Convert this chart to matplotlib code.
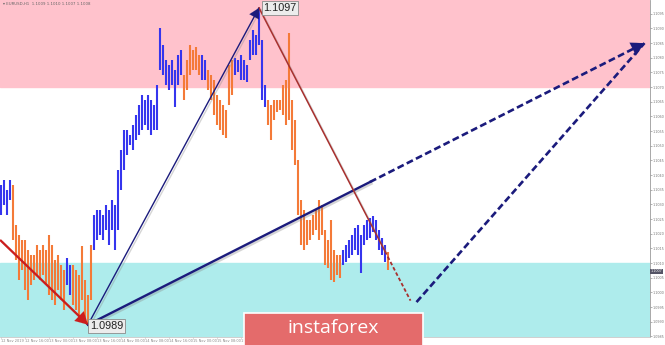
import numpy as np
import matplotlib
matplotlib.use("Agg")
import matplotlib.pyplot as plt
import matplotlib.patheffects as pe
from matplotlib.patches import Rectangle

# price bars (H1)
highs = [1.10366, 1.10383, 1.10349, 1.10383, 1.10366, 1.10230, 1.10196, 1.10179, 1.10179, 1.10145,
         1.10127, 1.10127, 1.10162, 1.10145, 1.10162, 1.10145, 1.10196, 1.10162, 1.10110, 1.10127,
         1.10093, 1.10076, 1.10117, 1.10093, 1.10093, 1.10076, 1.10059, 1.10158, 1.10042, 1.09991,
         1.10162, 1.10264, 1.10281, 1.10281, 1.10264, 1.10298, 1.10281, 1.10315, 1.10298, 1.10417,
         1.10486, 1.10554, 1.10554, 1.10537, 1.10571, 1.10605, 1.10639, 1.10673, 1.10656, 1.10673,
         1.10656, 1.10639, 1.10707, 1.10902, 1.10844, 1.10792, 1.10775, 1.10792, 1.10758, 1.10809,
         1.10827, 1.10741, 1.10792, 1.10844, 1.10827, 1.10837, 1.10809, 1.10809, 1.10792, 1.10758,
         1.10741, 1.10724, 1.10673, 1.10656, 1.10639, 1.10622, 1.10775, 1.10792, 1.10799, 1.10792,
         1.10809, 1.10792, 1.10775, 1.10861, 1.10895, 1.10878, 1.10970, 1.10861, 1.10707, 1.10656,
         1.10639, 1.10656, 1.10656, 1.10656, 1.10707, 1.10724, 1.10884, 1.10656, 1.10588, 1.10451,
         1.10315, 1.10281, 1.10247, 1.10247, 1.10264, 1.10281, 1.10315, 1.10298, 1.10213, 1.10179,
         1.10247, 1.10145, 1.10127, 1.10127, 1.10145, 1.10162, 1.10179, 1.10196, 1.10220, 1.10230,
         1.10196, 1.10230, 1.10247, 1.10254, 1.10260, 1.10247, 1.10213, 1.10185, 1.10162, 1.10138]
lows = [1.10264, 1.10298, 1.10264, 1.10315, 1.10179, 1.10110, 1.10042, 1.10076, 1.10008, 1.09974,
        1.10025, 1.10042, 1.10059, 1.10042, 1.10059, 1.10025, 1.09991, 1.09974, 1.09957, 1.10008,
        1.09974, 1.09940, 1.10025, 1.09991, 1.09957, 1.09940, 1.09923, 1.09974, 1.09906, 1.09890,
        1.09974, 1.10145, 1.10179, 1.10196, 1.10179, 1.10213, 1.10162, 1.10213, 1.10145, 1.10213,
        1.10349, 1.10417, 1.10468, 1.10503, 1.10486, 1.10520, 1.10537, 1.10554, 1.10571, 1.10554,
        1.10537, 1.10554, 1.10554, 1.10758, 1.10741, 1.10707, 1.10690, 1.10707, 1.10632, 1.10707,
        1.10741, 1.10656, 1.10690, 1.10741, 1.10758, 1.10758, 1.10741, 1.10724, 1.10724, 1.10690,
        1.10656, 1.10605, 1.10571, 1.10554, 1.10537, 1.10526, 1.10639, 1.10673, 1.10741, 1.10751,
        1.10724, 1.10724, 1.10717, 1.10792, 1.10809, 1.10809, 1.10844, 1.10656, 1.10632, 1.10571,
        1.10520, 1.10588, 1.10615, 1.10622, 1.10605, 1.10571, 1.10588, 1.10486, 1.10434, 1.10264,
        1.10162, 1.10145, 1.10162, 1.10179, 1.10196, 1.10213, 1.10179, 1.10196, 1.10093, 1.10083,
        1.10042, 1.10035, 1.10059, 1.10049, 1.10093, 1.10104, 1.10117, 1.10127, 1.10145, 1.10127,
        1.10066, 1.10162, 1.10179, 1.10185, 1.10206, 1.10179, 1.10145, 1.10127, 1.10104, 1.10076]

# wave segments: first bar of each segment and its direction
seg_start = [0, 4, 22, 24, 31, 61, 67, 69, 78, 89, 114, 129]
seg_dir = ['up', 'down', 'up', 'down', 'up', 'down', 'up', 'down', 'up', 'down', 'up', 'down']

# wave pivots (bar index, price)
wave_start = (-0.3, 1.10179)
wave_low = (29, 1.0989)
wave_peak = (86, 1.1097)
fc_low = (136.5, 1.09972)
fc_low2 = (138.5, 1.09967)
fc_target = (214.5, 1.10850)
solid_end_long = 123      # where the long up line turns dashed
solid_end_down = 128      # where the down line turns dashed

resist_zone = (1.1070, 1.1110)
support_zone = (1.0980, 1.1010)
last_price = 1.10073

yticks = np.arange(1.0985, 1.10951, 0.0005)
xtick_bars = list(range(0, 130, 8))
xtick_labels = ['12 Nov 2019', '12 Nov 16:00', '13 Nov 00:00', '13 Nov 08:00', '13 Nov 16:00',
                '14 Nov 00:00', '14 Nov 08:00', '14 Nov 16:00', '15 Nov 00:00', '15 Nov 08:00',
                '15 Nov 16:00', '18 Nov 00:00', '18 Nov 08:00', '18 Nov 16:00', '19 Nov 00:00',
                '19 Nov 08:00', '19 Nov 16:00']

UP = '#3535ee'
DOWN = '#f47a38'
NAVY = '#1b1b7c'
RED = '#cc1d1d'
BROWN = '#a8302e'

fig = plt.figure(figsize=(6.65, 3.45), dpi=100)
ax = fig.add_axes([0, 8 / 345, 650 / 665, 337 / 345])
ax.set_xlim(-0.33, 216.33)
ax.set_ylim(1.09848, 1.10997)

ax.axhspan(*resist_zone, color='#ffc2cc', zorder=0)
ax.axhspan(*support_zone, color='#aeecec', zorder=0)

# bars coloured by wave direction
idx = np.arange(len(highs))
colors = []
bounds = seg_start + [len(highs)]
for k in range(len(seg_start)):
    c = UP if seg_dir[k] == 'up' else DOWN
    colors += [c] * (bounds[k + 1] - bounds[k])
ax.vlines(idx, lows, highs, colors=colors, linewidth=1.5, zorder=2)

shadow = [pe.SimpleLineShadow(offset=(1.2, -1.2), shadow_color='#888888', alpha=0.35), pe.Normal()]


def head(p0, p1, color, size):
    # small arrowhead at p1 pointing along p0->p1
    back = (p1[0] - (p1[0] - p0[0]) * 0.02, p1[1] - (p1[1] - p0[1]) * 0.02)
    ax.annotate('', xy=p1, xytext=back,
                arrowprops=dict(arrowstyle='-|>,head_length=0.55,head_width=0.3',
                                color=color, lw=0.1, shrinkA=0, shrinkB=0,
                                mutation_scale=size), zorder=5)


# previous down wave
ax.plot([wave_start[0], wave_low[0]], [wave_start[1], wave_low[1]], color=RED, lw=1.6,
        zorder=4, path_effects=shadow, solid_capstyle='butt')
head(wave_start, wave_low, RED, 16)

# up wave to the peak
ax.plot([wave_low[0], wave_peak[0]], [wave_low[1], wave_peak[1]], color=NAVY, lw=1.0,
        zorder=4, path_effects=shadow)
head(wave_low, wave_peak, NAVY, 13)

# long up line, solid then dashed
xs = [wave_low[0], fc_target[0]]
ys = [wave_low[1], fc_target[1]]
y_mid = np.interp(solid_end_long, xs, ys)
ax.plot([wave_low[0], solid_end_long], [wave_low[1], y_mid], color=NAVY, lw=1.7,
        zorder=4, path_effects=shadow)
ax.plot([solid_end_long, fc_target[0]], [y_mid, fc_target[1]], color=NAVY, lw=1.9,
        dashes=(2.6, 1.3), zorder=4)
head(wave_low, fc_target, NAVY, 17)

# down line from the peak
xs = [wave_peak[0], fc_low[0]]
ys = [wave_peak[1], fc_low[1]]
y_mid = np.interp(solid_end_down, xs, ys)
ax.plot([wave_peak[0], solid_end_down], [wave_peak[1], y_mid], color=BROWN, lw=1.1,
        zorder=4, path_effects=shadow)
ax.plot([solid_end_down, fc_low[0]], [y_mid, fc_low[1]], color=BROWN, lw=1.3,
        dashes=(2, 1.3), zorder=4)

# forecast up line
ax.plot([fc_low2[0], fc_target[0]], [fc_low2[1], fc_target[1]], color=NAVY, lw=1.9,
        dashes=(2.6, 1.3), zorder=4)

# pivot labels
box = dict(boxstyle='square,pad=0.15', facecolor='#ececec', edgecolor='#8a8a8a', lw=0.6)
ax.annotate('%.4f' % wave_peak[1], xy=wave_peak, xytext=(3, 0), textcoords='offset points',
            ha='left', va='center', fontsize=7.8, family='Liberation Sans', color='#222222',
            bbox=box, zorder=6)
ax.annotate('%.4f' % wave_low[1], xy=wave_low, xytext=(1.5, -1), textcoords='offset points',
            ha='left', va='center', fontsize=7.8, family='Liberation Sans', color='#222222',
            bbox=box, zorder=6)

# axes styling
for s in ['left', 'top']:
    ax.spines[s].set_visible(False)
ax.spines['right'].set_color('#9a9a9a')
ax.spines['bottom'].set_color('#c8c8c8')
ax.spines['right'].set_linewidth(0.6)
ax.spines['bottom'].set_linewidth(0.6)
ax.yaxis.tick_right()
ax.set_yticks(yticks)
ax.set_yticklabels(['%.4f' % v for v in yticks])
ax.tick_params(axis='y', labelsize=2.4, colors='#777777', length=1.2, width=0.4, pad=0.6)
ax.set_xticks(xtick_bars)
ax.set_xticklabels(xtick_labels, ha='left')
ax.tick_params(axis='x', labelsize=2.5, colors='#888888', length=1, width=0.4, pad=0.5)

ax.text(1.0015, last_price, '%.4f' % last_price, transform=ax.get_yaxis_transform(),
        fontsize=2.4, color='white', va='center', ha='left',
        bbox=dict(boxstyle='square,pad=0.15', facecolor='#555566', edgecolor='none'))
ax.text(0.004, 0.995, '\u25be EURUSD,H1  1.1009 1.1010 1.1007 1.1008', transform=ax.transAxes,
        fontsize=2.8, color='#666666', va='top', ha='left')

# watermark
fig.patches.append(Rectangle((244 / 665, -0.01), 179 / 665, (345 - 313) / 345 + 0.01,
                             transform=fig.transFigure, facecolor='#e46b6b',
                             edgecolor='white', lw=1.2, zorder=10))
fig.text(333 / 665, 1 - 328 / 345, 'instaforex', ha='center', va='center', color='white',
         fontsize=14, family='Open Sans', zorder=11)

fig.savefig('out.png', dpi=100)
